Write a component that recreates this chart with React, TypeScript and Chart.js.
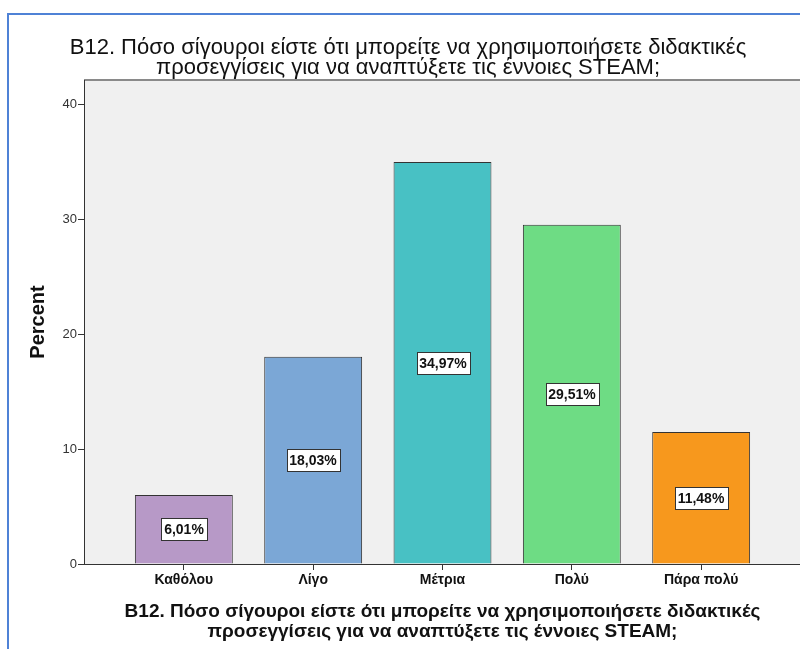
import { useEffect, useRef } from "react";
import { Chart, registerables } from "chart.js";

Chart.register(...registerables);

// Response categories and their share of respondents (%)
const categories = ["Καθόλου", "Λίγο", "Μέτρια", "Πολύ", "Πάρα πολύ"];
const percents = [6.01, 18.03, 34.97, 29.51, 11.48];
const barColors = ["#b799c7", "#7ba7d6", "#48c1c4", "#6edc84", "#f7981d"];
const yTicks = [0, 10, 20, 30, 40];
const questionLines = [
  "B12. Πόσο σίγουροι είστε ότι μπορείτε να χρησιμοποιήσετε διδακτικές",
  "προσεγγίσεις για να αναπτύξετε τις έννοιες STEAM;",
];
const yAxisTitle = "Percent";

const SANS = "'Liberation Sans', Arial, sans-serif";

const formatPct = (v: number) => v.toFixed(2).replace(".", ",") + "%";

// Grey plot background with a top frame line
const plotBackground = {
  id: "plotBackground",
  beforeDraw(chart: any) {
    const { ctx, chartArea: a } = chart;
    ctx.save();
    ctx.fillStyle = "#f0f0f0";
    ctx.fillRect(a.left, a.top, a.right - a.left, a.bottom - a.top);
    ctx.strokeStyle = "#8a8a8a";
    ctx.lineWidth = 2;
    ctx.beginPath();
    ctx.moveTo(a.left, a.top);
    ctx.lineTo(a.right + 20, a.top);
    ctx.stroke();
    ctx.restore();
  },
};

// Boxed percentage label in the middle of each bar
const valueBoxes = {
  id: "valueBoxes",
  afterDatasetsDraw(chart: any) {
    const { ctx } = chart;
    const meta = chart.getDatasetMeta(0);
    ctx.save();
    ctx.font = `bold 14px ${SANS}`;
    ctx.textAlign = "center";
    ctx.textBaseline = "middle";
    meta.data.forEach((bar: any, i: number) => {
      const text = formatPct(percents[i]);
      const w = Math.round(ctx.measureText(text).width + 6);
      const h = 22;
      const cx = Math.round(bar.x);
      const cy = Math.round((bar.y + bar.base) / 2);
      const x0 = Math.round(cx - w / 2) + 0.5;
      const y0 = Math.round(cy - h / 2) + 0.5;
      ctx.fillStyle = "#ffffff";
      ctx.fillRect(x0, y0, w, h);
      ctx.strokeStyle = "#333333";
      ctx.lineWidth = 1;
      ctx.strokeRect(x0, y0, w, h);
      ctx.fillStyle = "#111111";
      ctx.fillText(text, cx, cy + 1);
    });
    ctx.restore();
  },
};

export default function App() {
  const canvasRef = useRef<HTMLCanvasElement | null>(null);

  useEffect(() => {
    const canvas = canvasRef.current;
    if (!canvas) return;
    const chart = new Chart(canvas, {
      type: "bar",
      data: {
        datasets: [
          {
            data: percents.map((y, i) => ({ x: i, y })),
            backgroundColor: barColors,
            borderColor: "#333333",
            borderWidth: 1,
            categoryPercentage: 1,
            barPercentage: 0.757,
          },
        ],
      },
      options: {
        responsive: false,
        animation: false,
        layout: { padding: { left: 15, right: 15, top: 0, bottom: 0 } },
        plugins: {
          legend: { display: false },
          tooltip: { enabled: false },
          title: {
            display: true,
            text: questionLines,
            color: "#111111",
            font: { family: SANS, size: 22, weight: "normal", lineHeight: 20 / 22 },
            padding: { top: 38, bottom: 2 },
          },
        },
        scales: {
          x: {
            type: "linear",
            min: -0.772,
            max: 4.772,
            offset: false,
            grid: {
              display: true,
              drawOnChartArea: false,
              drawTicks: true,
              tickLength: 6,
              color: "#333333",
              offset: false,
            },
            border: { display: true, color: "#333333", width: 1 },
            afterBuildTicks: (axis: any) => {
              axis.ticks = categories.map((_, i) => ({ value: i }));
            },
            ticks: {
              autoSkip: false,
              maxRotation: 0,
              padding: 2,
              color: "#111111",
              font: { family: SANS, size: 14, weight: "bold" },
              callback: (v: any) => categories[v as number],
            },
            title: {
              display: true,
              text: questionLines,
              color: "#111111",
              font: { family: SANS, size: 19, weight: "bold", lineHeight: 20 / 19 },
              padding: { top: 4, bottom: 7 },
            },
            afterFit: (s: any) => {
              s.height = 85;
            },
          },
          y: {
            min: 0,
            max: 42.1,
            afterBuildTicks: (axis: any) => {
              axis.ticks = yTicks.map((v) => ({ value: v }));
            },
            grid: {
              display: true,
              drawOnChartArea: false,
              drawTicks: true,
              tickLength: 6,
              color: "#333333",
            },
            border: { display: true, color: "#333333", width: 1 },
            ticks: {
              padding: 1,
              color: "#333333",
              font: { family: SANS, size: 13 },
            },
            title: {
              display: true,
              text: yAxisTitle,
              color: "#111111",
              font: { family: SANS, size: 20, weight: "bold" },
              padding: { top: 11, bottom: 0 },
            },
            afterFit: (s: any) => {
              s.width = 69;
            },
          },
        },
      },
      plugins: [plotBackground, valueBoxes],
    } as any);
    return () => chart.destroy();
  }, []);

  return (
    <div
      style={{
        position: "fixed",
        left: 0,
        top: 0,
        width: 800,
        height: 649,
        overflow: "hidden",
        background: "#ffffff",
      }}
    >
      <div
        style={{
          position: "absolute",
          left: 7,
          top: 13,
          width: 900,
          height: 900,
          border: "2px solid #4f82d6",
          boxSizing: "border-box",
        }}
      />
      <canvas
        ref={canvasRef}
        width={816}
        height={649}
        style={{ position: "absolute", left: 0, top: 0, width: 816, height: 649 }}
      />
    </div>
  );
}
